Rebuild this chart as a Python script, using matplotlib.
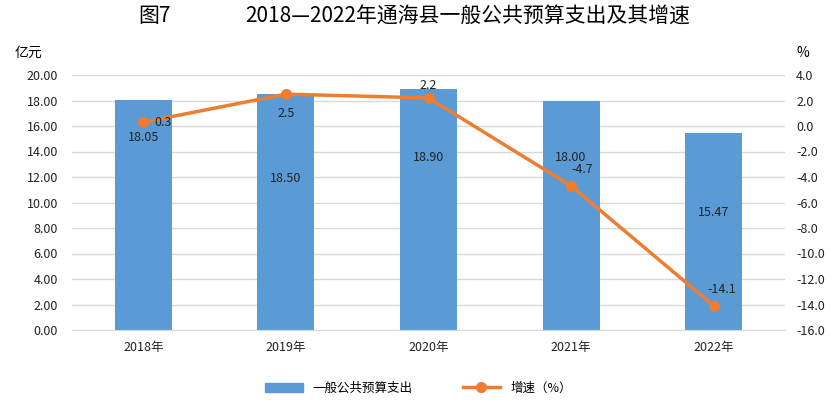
import matplotlib.pyplot as plt
from matplotlib.lines import Line2D
from matplotlib.patches import Patch

plt.rcParams['font.family'] = ['Noto Sans CJK SC', 'DejaVu Sans']

years = ['2018年', '2019年', '2020年', '2021年', '2022年']
spending = [18.05, 18.50, 18.90, 18.00, 15.47]
growth = [0.3, 2.5, 2.2, -4.7, -14.1]
# where the bar labels sit (left-axis units) and growth label offsets (points)
bar_label_y = [15.1, 11.9, 13.5, 13.5, 9.2]
growth_offsets = [(14, 0), (0, -14), (0, 9), (8, 12), (6, 12)]

blue = '#5B9BD5'
orange = '#ED7D31'

fig = plt.figure(figsize=(8.37, 4.04), dpi=100)
ax = fig.add_axes([72 / 837, 1 - 330 / 404, 713 / 837, 255 / 404])
ax2 = ax.twinx()

x = list(range(len(years)))
ax.bar(x, spending, width=0.4, color=blue, zorder=2)
for i, v in enumerate(spending):
    ax.text(i, bar_label_y[i], f'{v:.2f}', ha='center', va='center', fontsize=9, color='#222222')

ax.set_ylim(0, 20)
ax.set_yticks([i * 2 for i in range(11)])
ax.set_yticklabels([f'{i * 2:.2f}' for i in range(11)])
ax.set_xlim(-0.5, 4.5)
ax.set_xticks(x)
ax.set_xticklabels(years)
ax.grid(axis='y', color='#D9D9D9', linewidth=1, zorder=0)
ax.set_axisbelow(True)

ax2.plot(x, growth, color=orange, linewidth=2.5, marker='o', markersize=7, zorder=3)
for i, g in enumerate(growth):
    ax2.annotate(f'{g}', (i, g), xytext=growth_offsets[i], textcoords='offset points',
                 ha='center', va='center', fontsize=9, color='#222222')
ax2.set_ylim(-16, 4)
ax2.set_yticks([-16 + i * 2 for i in range(11)])
ax2.set_yticklabels([f'{-16 + i * 2:.1f}' for i in range(11)])

for a in (ax, ax2):
    for s in a.spines.values():
        s.set_visible(False)
    a.tick_params(length=0, labelsize=9, colors='#222222')
ax.spines['bottom'].set_visible(True)
ax.spines['bottom'].set_color('#D9D9D9')
ax.tick_params(axis='y', pad=10)
ax.tick_params(axis='x', pad=8)
ax2.tick_params(axis='y', pad=8)

fig.text(28 / 837, 1 - 53 / 404, '亿元', ha='center', va='center', fontsize=10)
fig.text(803 / 837, 1 - 53 / 404, '%', ha='center', va='center', fontsize=10)
fig.text(155 / 837, 1 - 16 / 404, '图7', ha='center', va='center', fontsize=15)
fig.text(245 / 837, 1 - 16 / 404, '2018—2022年通海县一般公共预算支出及其增速',
         ha='left', va='center', fontsize=15)

handles = [Patch(color=blue, label='一般公共预算支出'),
           Line2D([0], [0], color=orange, linewidth=2.5, marker='o', markersize=7, label='增速（%）')]
fig.legend(handles=handles, loc='center', bbox_to_anchor=(0.5, 1 - 388 / 404), ncol=2,
           frameon=False, fontsize=9, columnspacing=4, handlelength=3)

fig.savefig('out.png', dpi=100)
